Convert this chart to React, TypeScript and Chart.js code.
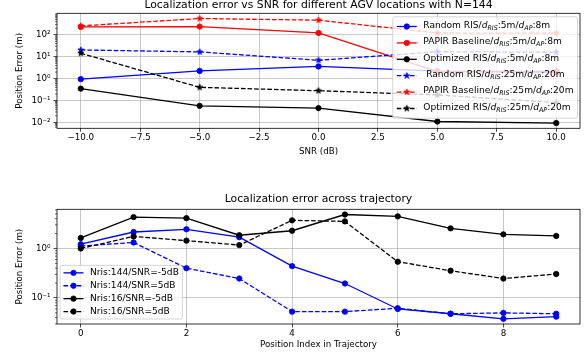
import React, { useEffect, useRef } from "react";
import { Chart, registerables } from "chart.js";

Chart.register(...registerables);

const FONT = "'DejaVu Sans', sans-serif";

// ---------- Top chart data ----------
const SNR = [-10, -5, 0, 5, 10];
const SNR_TICKS = [-10, -7.5, -5, -2.5, 0, 2.5, 5, 7.5, 10];
const SNR_TICK_LABELS = ["−10.0", "−7.5", "−5.0", "−2.5", "0.0", "2.5", "5.0", "7.5", "10.0"];
const TOP_Y_TICKS = [0.01, 0.1, 1, 10, 100];
const TOP_Y_TICK_LABELS = ["10⁻²", "10⁻¹", "10⁰", "10¹", "10²"];

const randomRis5 = [0.95, 2.25, 3.6, 2.2, 2.15];
const papir5 = [232, 240, 123, 2.1, 1.95];
const optimized5 = [0.35, 0.057, 0.045, 0.011, 0.0093];
const randomRis25 = [20.5, 16.7, 6.9, 17, 16];
const papir25 = [258, 560, 470, 122, 120];
const optimized25 = [14.5, 0.4, 0.28, 0.18, 0.08];

const TOP_LABELS = [
  "Random RIS/$d_{RIS}$:5m/$d_{AP}$:8m",
  "PAPIR Baseline/$d_{RIS}$:5m/$d_{AP}$:8m",
  "Optimized RIS/$d_{RIS}$:5m/$d_{AP}$:8m",
  " Random RIS/$d_{RIS}$:25m/$d_{AP}$:20m",
  "PAPIR Baseline/$d_{RIS}$:25m/$d_{AP}$:20m",
  "Optimized RIS/$d_{RIS}$:25m/$d_{AP}$:20m",
];

// ---------- Bottom chart data ----------
const POSITIONS = [0, 1, 2, 3, 4, 5, 6, 7, 8, 9];
const POS_TICKS = [0, 2, 4, 6, 8];
const POS_TICK_LABELS = ["0", "2", "4", "6", "8"];
const BOT_Y_TICKS = [0.1, 1];
const BOT_Y_TICK_LABELS = ["10⁻¹", "10⁰"];

const nris144m5 = [1.22, 2.15, 2.44, 1.69, 0.44, 0.196, 0.06, 0.048, 0.038, 0.042];
const nris144p5 = [1.12, 1.32, 0.4, 0.247, 0.053, 0.053, 0.062, 0.048, 0.05, 0.048];
const nris16m5 = [1.63, 4.3, 4.1, 1.85, 2.28, 4.85, 4.45, 2.55, 1.93, 1.79];
const nris16p5 = [1.0, 1.75, 1.44, 1.17, 3.7, 3.52, 0.54, 0.355, 0.247, 0.305];

const BOT_LABELS = ["Nris:144/SNR=-5dB", "Nris:144/SNR=5dB", "Nris:16/SNR=-5dB", "Nris:16/SNR=5dB"];

// ---------- helpers ----------
type Seg = { text: string; italic?: boolean; sub?: boolean };
function parseLabel(s: string): Seg[] {
  const out: Seg[] = [];
  const re = /\$(\w)_\{(\w+)\}\$/g;
  let last = 0;
  let m: RegExpExecArray | null;
  while ((m = re.exec(s))) {
    if (m.index > last) out.push({ text: s.slice(last, m.index) });
    out.push({ text: m[1], italic: true });
    out.push({ text: m[2], italic: true, sub: true });
    last = re.lastIndex;
  }
  if (last < s.length) out.push({ text: s.slice(last) });
  return out;
}

function logLimits(values: number[]) {
  const logs = values.map((v) => Math.log10(v));
  const lo = Math.min(...logs);
  const hi = Math.max(...logs);
  const m = (hi - lo) * 0.05;
  return { min: Math.pow(10, lo - m), max: Math.pow(10, hi + m) };
}

function makeStar(color: string, r: number): HTMLCanvasElement {
  const s = Math.ceil(r * 2 + 3);
  const c = document.createElement("canvas");
  c.width = s;
  c.height = s;
  const g = c.getContext("2d")!;
  const cx = s / 2;
  const cy = s / 2;
  const inner = r * 0.381966;
  g.beginPath();
  for (let k = 0; k < 10; k++) {
    const rad = k % 2 === 0 ? r : inner;
    const a = -Math.PI / 2 + (k * Math.PI) / 5;
    const px = cx + rad * Math.cos(a);
    const py = cy + rad * Math.sin(a);
    if (k === 0) g.moveTo(px, py);
    else g.lineTo(px, py);
  }
  g.closePath();
  g.fillStyle = color;
  g.fill();
  g.strokeStyle = color;
  g.lineWidth = 0.8;
  g.stroke();
  return c;
}

const LINE_W = 1.3;
const DASH = [4.6, 2];

function series(label: string, xs: number[], ys: number[], color: string, dashed: boolean, star: boolean, idx: number) {
  return {
    label,
    data: xs.map((x, i) => ({ x, y: ys[i] })),
    borderColor: color,
    backgroundColor: color,
    borderWidth: LINE_W,
    borderDash: dashed ? DASH : [],
    pointStyle: star ? makeStar(color, 3.2) : "circle",
    pointRadius: star ? 3 : 2.7,
    pointBorderWidth: 0.8,
    pointBackgroundColor: color,
    pointBorderColor: color,
    fill: false,
    tension: 0,
    order: -idx,
  };
}

type LegendCfg = {
  id: string;
  labels: string[];
  loc: "upper right" | "lower left";
  fontSize: number;
  rowH: number;
  padX: number;
  padY: number;
  handle: number;
  textPad: number;
  baxX: number;
  baxY: number;
  textDy: number;
};

function makeLegend(cfg: LegendCfg) {
  return {
    id: "mplLegend" + cfg.id,
    afterDraw(chart: any) {
      const ctx = chart.ctx as CanvasRenderingContext2D;
      const a = chart.chartArea;
      const fs = cfg.fontSize;
      const normal = `${fs}px ${FONT}`;
      const ital = `italic ${fs}px ${FONT}`;
      const sub = `italic ${fs * 0.7}px ${FONT}`;
      const fontOf = (s: Seg) => (s.sub ? sub : s.italic ? ital : normal);
      const rows = cfg.labels.map(parseLabel);
      ctx.save();
      const widthOf = (segs: Seg[]) =>
        segs.reduce((w, s) => {
          ctx.font = fontOf(s);
          return w + ctx.measureText(s.text).width;
        }, 0);
      const maxW = Math.max(...rows.map(widthOf));
      const w = cfg.padX * 2 + cfg.handle + cfg.textPad + maxW;
      const h = cfg.padY * 2 + rows.length * cfg.rowH;
      const x = cfg.loc === "upper right" ? a.right - cfg.baxX - w : a.left + cfg.baxX;
      const y = cfg.loc === "upper right" ? a.top + cfg.baxY : a.bottom - cfg.baxY - h;
      const r = 2;
      ctx.beginPath();
      ctx.moveTo(x + r, y);
      ctx.lineTo(x + w - r, y);
      ctx.arcTo(x + w, y, x + w, y + r, r);
      ctx.lineTo(x + w, y + h - r);
      ctx.arcTo(x + w, y + h, x + w - r, y + h, r);
      ctx.lineTo(x + r, y + h);
      ctx.arcTo(x, y + h, x, y + h - r, r);
      ctx.lineTo(x, y + r);
      ctx.arcTo(x, y, x + r, y, r);
      ctx.closePath();
      ctx.fillStyle = "rgba(255,255,255,0.8)";
      ctx.fill();
      ctx.strokeStyle = "#cccccc";
      ctx.lineWidth = 0.8;
      ctx.stroke();
      rows.forEach((segs, i) => {
        const ds = chart.data.datasets[i];
        const cy = y + cfg.padY + cfg.rowH * (i + 0.5);
        const lx0 = x + cfg.padX;
        const lx1 = lx0 + cfg.handle;
        ctx.setLineDash(ds.borderDash || []);
        ctx.strokeStyle = ds.borderColor;
        ctx.lineWidth = ds.borderWidth;
        ctx.beginPath();
        ctx.moveTo(lx0, cy);
        ctx.lineTo(lx1, cy);
        ctx.stroke();
        ctx.setLineDash([]);
        const mx = (lx0 + lx1) / 2;
        const ps = ds.pointStyle;
        if (ps instanceof HTMLCanvasElement) {
          ctx.drawImage(ps, mx - ps.width / 2, cy - ps.height / 2);
        } else {
          ctx.beginPath();
          ctx.arc(mx, cy, ds.pointRadius, 0, Math.PI * 2);
          ctx.fillStyle = ds.borderColor;
          ctx.fill();
          ctx.lineWidth = ds.pointBorderWidth;
          ctx.stroke();
        }
        let tx = lx1 + cfg.textPad;
        ctx.fillStyle = "#000";
        ctx.textBaseline = "middle";
        ctx.textAlign = "left";
        for (const s of segs) {
          ctx.font = fontOf(s);
          ctx.fillText(s.text, tx, cy + cfg.textDy + (s.sub ? fs * 0.3 : 0));
          tx += ctx.measureText(s.text).width;
        }
      });
      ctx.restore();
    },
  };
}

const framePlugin = {
  id: "mplFrame",
  afterDatasetsDraw(chart: any) {
    const ctx = chart.ctx as CanvasRenderingContext2D;
    const a = chart.chartArea;
    const y = chart.scales.y;
    ctx.save();
    ctx.strokeStyle = "#000";
    ctx.lineWidth = 0.6;
    const lo = Math.floor(Math.log10(y.min));
    const hi = Math.ceil(Math.log10(y.max));
    for (let e = lo; e <= hi; e++) {
      for (let k = 2; k <= 9; k++) {
        const v = k * Math.pow(10, e);
        if (v < y.min || v > y.max) continue;
        const py = y.getPixelForValue(v);
        ctx.beginPath();
        ctx.moveTo(a.left, py);
        ctx.lineTo(a.left - 2, py);
        ctx.stroke();
      }
    }
    ctx.lineWidth = 0.8;
    ctx.strokeRect(a.left, a.top, a.right - a.left, a.bottom - a.top);
    ctx.restore();
  },
};

const GRID = { color: "#b0b0b0", lineWidth: 0.7, tickColor: "#000", tickLength: 3.5, tickWidth: 0.7 };
const TICK_FONT = { family: FONT, size: 8.7, lineHeight: 1.2 };
const LABEL_FONT = { family: FONT, size: 8.7, lineHeight: 1.2 };

function makeConfig(opts: {
  title: string;
  titlePad: { top: number; bottom: number };
  datasets: any[];
  xMin: number;
  xMax: number;
  xTicks: number[];
  xTickLabels: string[];
  xTitle: string;
  xAxisH: number;
  xTitlePadBottom: number;
  yTicks: number[];
  yTickLabels: string[];
  yLim: { min: number; max: number };
  legend: any;
}): any {
  return {
    type: "line",
    data: { datasets: opts.datasets },
    plugins: [framePlugin, opts.legend],
    options: {
      animation: false,
      responsive: false,
      maintainAspectRatio: false,
      devicePixelRatio: 1,
      layout: { padding: { left: 0, right: 5, top: 0, bottom: 0 } },
      plugins: {
        legend: { display: false },
        tooltip: { enabled: false },
        title: {
          display: true,
          fullSize: false,
          text: opts.title,
          color: "#000",
          font: { family: FONT, size: 10.8, weight: "normal", lineHeight: 1 },
          padding: opts.titlePad,
        },
      },
      scales: {
        x: {
          type: "linear",
          min: opts.xMin,
          max: opts.xMax,
          afterBuildTicks: (s: any) => {
            s.ticks = opts.xTicks.map((v) => ({ value: v }));
          },
          afterFit: (s: any) => {
            s.height = opts.xAxisH;
          },
          ticks: {
            callback: (_v: any, i: number) => opts.xTickLabels[i],
            font: TICK_FONT,
            color: "#000",
            padding: 0.8,
            maxRotation: 0,
            autoSkip: false,
          },
          grid: GRID,
          border: { display: false },
          title: {
            display: true,
            text: opts.xTitle,
            color: "#000",
            font: LABEL_FONT,
            padding: { top: 0, bottom: opts.xTitlePadBottom },
          },
        },
        y: {
          type: "logarithmic",
          min: opts.yLim.min,
          max: opts.yLim.max,
          afterBuildTicks: (s: any) => {
            s.ticks = opts.yTicks.map((v) => ({ value: v }));
          },
          afterFit: (s: any) => {
            s.width = 57;
          },
          ticks: {
            callback: (_v: any, i: number) => opts.yTickLabels[i],
            font: TICK_FONT,
            color: "#000",
            padding: 3,
            autoSkip: false,
          },
          grid: GRID,
          border: { display: false },
          title: {
            display: true,
            text: "Position Error (m)",
            color: "#000",
            font: LABEL_FONT,
            padding: { top: 14.5, bottom: 0 },
          },
        },
      },
    },
  };
}

function topConfig() {
  const datasets = [
    series(TOP_LABELS[0], SNR, randomRis5, "#0000ff", false, false, 0),
    series(TOP_LABELS[1], SNR, papir5, "#ff0000", false, false, 1),
    series(TOP_LABELS[2], SNR, optimized5, "#000000", false, false, 2),
    series(TOP_LABELS[3], SNR, randomRis25, "#0000ff", true, true, 3),
    series(TOP_LABELS[4], SNR, papir25, "#ff0000", true, true, 4),
    series(TOP_LABELS[5], SNR, optimized25, "#000000", true, true, 5),
  ];
  return makeConfig({
    title: "Localization error vs SNR for different AGV locations with N=144",
    titlePad: { top: 0, bottom: 2.5 },
    datasets,
    xMin: -11,
    xMax: 11,
    xTicks: SNR_TICKS,
    xTickLabels: SNR_TICK_LABELS,
    xTitle: "SNR (dB)",
    xAxisH: 36.7,
    xTitlePadBottom: 8.1,
    yTicks: TOP_Y_TICKS,
    yTickLabels: TOP_Y_TICK_LABELS,
    yLim: logLimits([...randomRis5, ...papir5, ...optimized5, ...randomRis25, ...papir25, ...optimized25]),
    legend: makeLegend({
      id: "top",
      labels: TOP_LABELS,
      loc: "upper right",
      fontSize: 9.1,
      rowH: 16.4,
      padX: 4,
      padY: 1.5,
      handle: 20,
      textPad: 6.5,
      baxX: 2.5,
      baxY: 3.5,
      textDy: -1,
    }),
  });
}

function bottomConfig() {
  const datasets = [
    series(BOT_LABELS[0], POSITIONS, nris144m5, "#0000ff", false, false, 0),
    series(BOT_LABELS[1], POSITIONS, nris144p5, "#0000ff", true, false, 1),
    series(BOT_LABELS[2], POSITIONS, nris16m5, "#000000", false, false, 2),
    series(BOT_LABELS[3], POSITIONS, nris16p5, "#000000", true, false, 3),
  ];
  return makeConfig({
    title: "Localization error across trajectory",
    titlePad: { top: 8.9, bottom: 4.6 },
    datasets,
    xMin: -0.45,
    xMax: 9.45,
    xTicks: POS_TICKS,
    xTickLabels: POS_TICK_LABELS,
    xTitle: "Position Index in Trajectory",
    xAxisH: 34,
    xTitlePadBottom: 7.8,
    yTicks: BOT_Y_TICKS,
    yTickLabels: BOT_Y_TICK_LABELS,
    yLim: logLimits([...nris144m5, ...nris144p5, ...nris16m5, ...nris16p5]),
    legend: makeLegend({
      id: "bot",
      labels: BOT_LABELS,
      loc: "lower left",
      fontSize: 9.1,
      rowH: 12.9,
      padX: 3.5,
      padY: 1,
      handle: 20,
      textPad: 6.5,
      baxX: 3,
      baxY: 5,
      textDy: 0,
    }),
  });
}

export default function App() {
  const topRef = useRef<HTMLCanvasElement>(null);
  const botRef = useRef<HTMLCanvasElement>(null);
  useEffect(() => {
    const c1 = new Chart(topRef.current!, topConfig());
    const c2 = new Chart(botRef.current!, bottomConfig());
    return () => {
      c1.destroy();
      c2.destroy();
    };
  }, []);
  return (
    <div style={{ position: "absolute", left: 0, top: 0, width: 585, height: 358, background: "#fff", overflow: "hidden" }}>
      <canvas ref={topRef} width={585} height={165} style={{ position: "absolute", left: 0, top: 0, width: 585, height: 165 }} />
      <canvas ref={botRef} width={585} height={173} style={{ position: "absolute", left: 0, top: 185, width: 585, height: 173 }} />
    </div>
  );
}
